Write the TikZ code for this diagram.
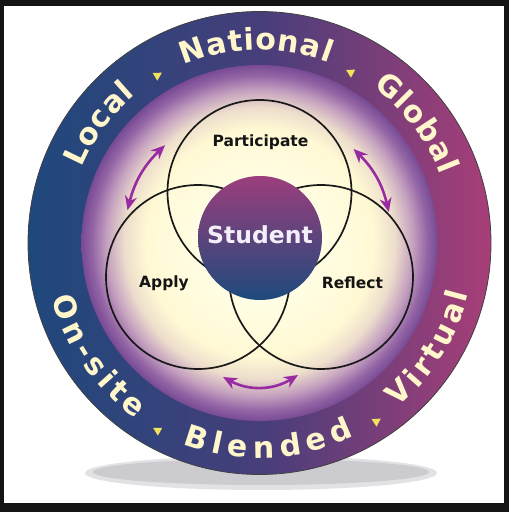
\documentclass[tikz,border=0pt]{standalone}
\usepackage{fontspec}
\setmainfont{DejaVu Sans}
\usetikzlibrary{decorations.text,arrows.meta,shadings}
\definecolor{ringblue}{RGB}{30,72,124}
\definecolor{ringmid}{RGB}{70,62,122}
\definecolor{ringmag}{RGB}{168,62,120}
\definecolor{cream}{RGB}{255,246,204}
\definecolor{tri}{RGB}{240,226,92}
\definecolor{arrpurple}{RGB}{152,42,162}
\definecolor{studtop}{RGB}{155,62,124}
\definecolor{studbot}{RGB}{30,74,124}
\definecolor{studtext}{RGB}{242,238,250}
\definecolor{shadowgray}{RGB}{203,203,208}
\definecolor{shadowlight}{RGB}{226,226,229}
\pgfdeclareradialshading{discshade}{\pgfpoint{0bp}{0bp}}{%
 rgb(0bp)=(1,1,0.95); rgb(10bp)=(1,0.99,0.88); rgb(16bp)=(1,0.975,0.83);
 rgb(19bp)=(0.93,0.87,0.80); rgb(21.5bp)=(0.77,0.63,0.75); rgb(23.5bp)=(0.58,0.40,0.65);
 rgb(25bp)=(0.47,0.29,0.58); rgb(50bp)=(0.47,0.29,0.58)}
\tikzset{
  venn/.style={circle, draw=black!90, line width=1.7pt, minimum size=184pt, inner sep=0pt},
  lbl/.style={font=\bfseries\fontsize{15.5}{15.5}\selectfont, text=black!92, inner sep=0pt},
  arr/.style={draw=arrpurple, line width=2.6pt, {Stealth[length=14pt,width=12pt]}-{Stealth[length=14pt,width=12pt]}},
  ringword/.style={decorate, decoration={text along path, text align={fit to path},
     text={|\fontsize{30}{30}\selectfont\bfseries\color{cream}|#1}}},
  tripath/.style={fill=tri}
}
\begin{document}
\begin{tikzpicture}[x=1pt,y=1pt]
\useasboundingbox (0,0) rectangle (509,512);
% frame
\fill[black!92] (0,0) rectangle (509,512);
\fill[white] (4,9) rectangle (504,506);
% shadow
\fill[shadowlight] (261,39) ellipse[x radius=176, y radius=17];
\fill[shadowgray] (261,40) ellipse[x radius=168, y radius=13];
\coordinate (C) at (259.5,269);
% ring
\path[left color=ringblue, right color=ringmag, middle color=ringmid] (C) circle[radius=231.5pt];
\draw[black!75, line width=0.8pt] (C) circle[radius=231.5pt];
% inner disc
\shade[shading=discshade] (C) circle[radius=178pt];
% venn circles
\node[venn] (vtop) at (259.5,320) {};
\node[venn] (vleft) at (198,235) {};
\node[venn] (vright) at (321,235) {};
% student
\node[circle, minimum size=124pt, inner sep=0pt, top color=studtop, bottom color=studbot] (student) at (260,274) {};
\node[font=\bfseries\fontsize{23.5}{23.5}\selectfont, text=studtext, inner sep=0pt] (studentlbl) at (260,277) {Student};
% labels
\node[lbl] (participate) at (260.5,370) {Participate};
\node[lbl] (apply) at (164,229) {Apply};
\node[lbl] (reflect) at (352.5,229) {Reflect};
% arrows
\coordinate (la1) at ([shift={(C)}]134:136pt);
\coordinate (la2) at ([shift={(C)}]166:136pt);
\draw[arr] (la1) to[bend right=16] (la2);
\coordinate (ra1) at ([shift={(C)}]45:133pt);
\coordinate (ra2) at ([shift={(C)}]13.5:133pt);
\draw[arr] (ra1) to[bend left=16] (ra2);
\coordinate (ba1) at (223,135);
\coordinate (ba2) at (298,137);
\draw[arr] (ba1) to[bend right=30] (ba2);
% ring words
\path[ringword=Local] ([shift={(C)}]157:193pt) arc[start angle=157, end angle=130, radius=193pt];
\path[ringword=National] ([shift={(C)}]113:193pt) arc[start angle=113, end angle=69, radius=193pt];
\path[ringword=Global] ([shift={(C)}]54:193pt) arc[start angle=54, end angle=20.5, radius=193pt];
\path[ringword=On-site] ([shift={(C)}]-165:215pt) arc[start angle=-165, end angle=-125, radius=215pt];
\path[ringword=Blended] ([shift={(C)}]-111:215pt) arc[start angle=-111, end angle=-64, radius=215pt];
\path[ringword=Virtual] ([shift={(C)}]-50:215pt) arc[start angle=-50, end angle=-13.5, radius=215pt];
% triangles
\fill[tripath, shift={(158,437)}, rotate=31] (4.5,0) -- (-3.5,4.5) -- (-3.5,-4.5) -- cycle;
\fill[tripath, shift={(350,440)}, rotate=152] (4.5,0) -- (-3.5,4.5) -- (-3.5,-4.5) -- cycle;
\fill[tripath, shift={(157,82)}, rotate=151] (4.5,0) -- (-3.5,4.5) -- (-3.5,-4.5) -- cycle;
\fill[tripath, shift={(377,91)}, rotate=33] (4.5,0) -- (-3.5,4.5) -- (-3.5,-4.5) -- cycle;
\end{tikzpicture}
\end{document}
